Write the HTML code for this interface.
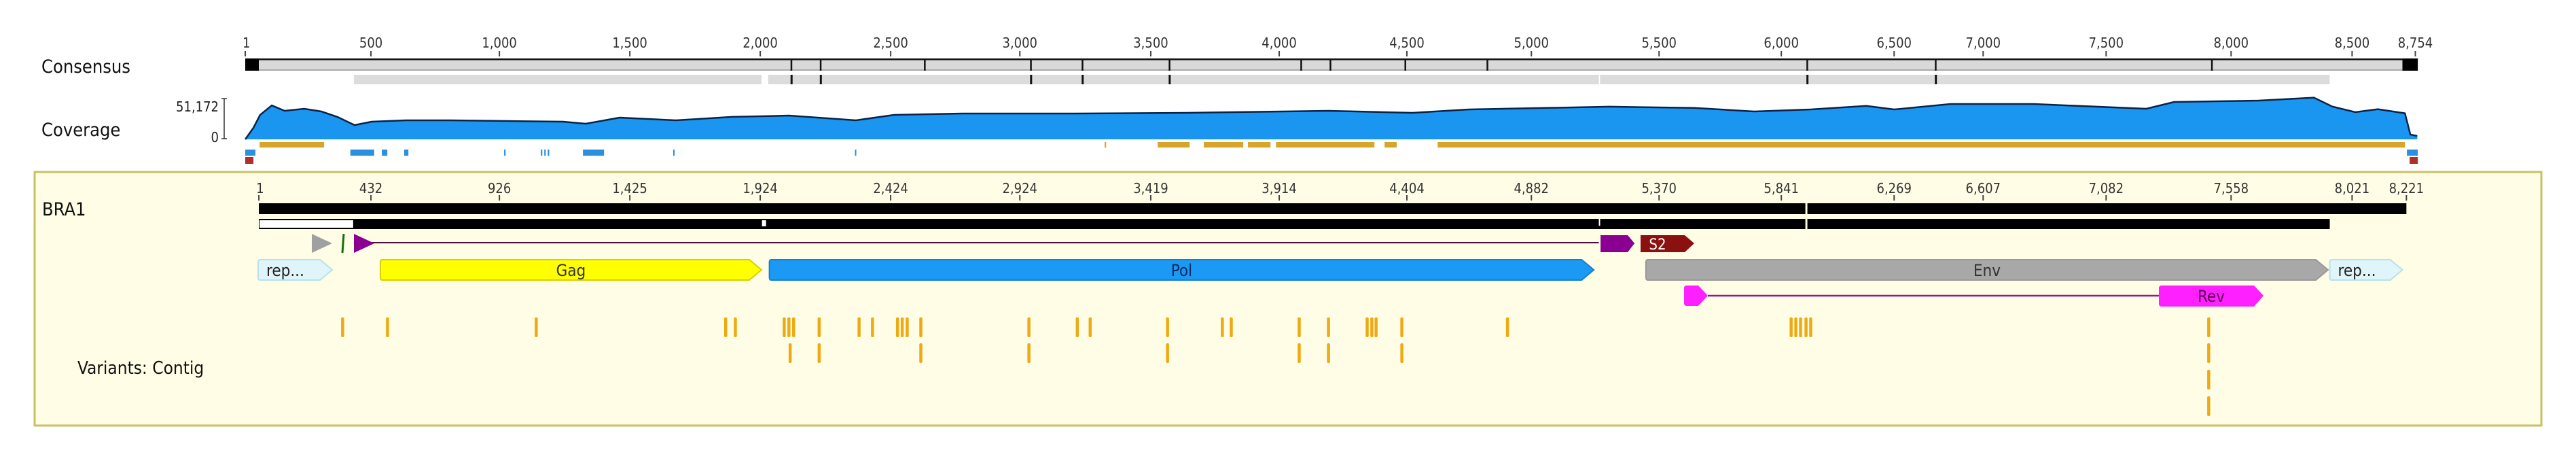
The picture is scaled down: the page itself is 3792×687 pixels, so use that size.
<!DOCTYPE html>
<html><head><meta charset="utf-8">
<style>
html,body{margin:0;padding:0;background:#fff;}
svg{display:block;font-family:"DejaVu Sans Condensed","DejaVu Sans","Liberation Sans",sans-serif;}
</style></head>
<body>
<svg id="chart" width="3792" height="687" viewBox="0 0 3792 687" xmlns="http://www.w3.org/2000/svg">
  <rect x="0" y="0" width="3792" height="687" fill="#ffffff"/>
  <rect x="51" y="253" width="3690" height="373" fill="#fffde6" stroke="#c9c062" stroke-width="3"/>
  <text x="61" y="107" font-size="27" fill="#111">Consensus</text>
  <text x="61" y="200" font-size="27" fill="#111">Coverage</text>
  <text x="322" y="164" font-size="20" fill="#222" text-anchor="end">51,172</text>
  <text x="322" y="209" font-size="20" fill="#222" text-anchor="end">0</text>
  <path d="M326 145 H334 M330 145 V204 M326 204 H334" stroke="#333" stroke-width="1.5" fill="none"/>
  <text x="62" y="317" font-size="27" fill="#111">BRA1</text>
  <text x="114" y="550" font-size="26" fill="#111">Variants: Contig</text>
  <g id="g"></g>
</svg>
<script>
// ---- data (alignment columns) ----
const consTickLabels = ["1","500","1,000","1,500","2,000","2,500","3,000","3,500","4,000","4,500","5,000","5,500","6,000","6,500","7,000","7,500","8,000","8,500","8,754"];
const consTickCols = [0,507,1025,1551,2077,2603,3124,3652,4170,4685,5187,5702,6195,6650,7009,7505,8009,8497,8752];
const contigTickLabels = ["1","432","926","1,425","1,924","2,424","2,924","3,419","3,914","4,404","4,882","5,370","5,841","6,269","6,607","7,082","7,558","8,021","8,221"];
const contigTickCols = [55,507,1025,1551,2077,2603,3124,3652,4170,4685,5187,5702,6195,6650,7009,7505,8009,8497,8716];
const consGapCols = [2202,2320,2740,3168,3376,3727,4258,4376,4678,5009,6299,6817,7931];
const idGapCols = [2202,2320,3168,3376,3727,6299,6817];
const covCols = [0,33,60,107,159,238,307,373,441,510,647,827,1055,1282,1373,1510,1737,1965,2192,2463,2617,2891,3346,3798,4368,4707,4935,5502,5844,6086,6313,6538,6650,6877,7214,7667,7779,8119,8343,8417,8510,8601,8710,8732,8760];
const covValues = [0,14.5,30.7,42.6,35.8,38.4,35,28,17.9,22.2,23.9,23.9,23,22.2,19.6,27.3,23.9,28.2,29.8,23.9,30.7,32.4,32.4,33.3,35.8,33.3,37.5,41,39.4,35,37.5,42,37.5,44.3,44.3,38.4,46.9,48.6,52.3,41.2,34.1,37.8,32.7,6,4.3];
const covMax = 51.172;
const orangeStarts = [58,3466,3680,3866,4044,4157,4595,4809];
const orangeEnds   = [318,3472,3809,4025,4135,4554,4644,8710];
const blueStarts = [0,424,551,641,1044,1192,1206,1220,1362,1726,2459,8718];
const blueEnds   = [41,520,573,658,1050,1198,1212,1226,1447,1731,2463,8762];
const redStarts = [0,8729];
const redEnds = [33,8762];
const var1 = [392,573,1173,1937,1976,2173,2192,2211,2314,2475,2529,2630,2649,2669,2724,3160,3355,3407,3719,3940,3976,4250,4368,4524,4543,4560,4664,5090,6234,6253,6272,6294,6313,7918];
const var2 = [2197,2314,2724,3160,3719,4250,4368,4664,7918];
const var3 = [7918];
const var4 = [7918];
const featNames = ["rep...","Gag","Pol","Env","rep..."];
const featStarts = [52,545,2114,5649,8407];
const featEnds = [351,2082,5439,8400,8700];

// ---- scales ----
const X0 = 361, PX = 0.365;
const xs = c => X0 + c * PX;
const covBase = 205, covTop = 145;
const ys = v => covBase - (v / covMax) * (covBase - covTop);
const NS = "http://www.w3.org/2000/svg";
const G = document.getElementById('g');
function mk(tag, attrs, parent){ const e = document.createElementNS(NS, tag); for (const k in attrs) e.setAttribute(k, attrs[k]); (parent||G).appendChild(e); return e; }

// rulers
function ruler(labels, cols, yLab, yT){
  for (let i=0;i<labels.length;i++){
    const x = xs(cols[i]);
    const t = mk('line',{x1:x,x2:x,y1:yT,y2:yT+8,stroke:'#444','stroke-width':2});
    
    
    const tx = mk('text',{x:x,y:yLab,'font-size':20,fill:'#333','text-anchor':i==0?'start':'middle'});
    
    
    if(i==0) tx.setAttribute('x', x-4);
    tx.textContent = labels[i];
  }
}
ruler(consTickLabels, consTickCols, 70, 75);
ruler(contigTickLabels, contigTickCols, 284, 287);

// consensus bar
let r = mk('rect',{x:xs(0),y:86,width:xs(8762)-xs(0),height:18,fill:'#d9d9d9'});


mk('rect',{x:xs(0),y:86,width:xs(8762)-xs(0),height:2.5,fill:'#111'});
mk('rect',{x:xs(0),y:102,width:xs(8762)-xs(0),height:2,fill:'#aaa'});
mk('rect',{x:xs(0),y:86,width:20,height:18,fill:'#000'});
mk('rect',{x:xs(8700),y:86,width:xs(8762)-xs(8700),height:18,fill:'#000'});
consGapCols.forEach(c=>{ const l=mk('rect',{x:xs(c)-1,y:86,width:2.5,height:18,fill:'#111'});
    });
// identity bar
r = mk('rect',{x:xs(438),y:110,width:xs(2082)-xs(438),height:14,fill:'#dcdcdc'});
 
r = mk('rect',{x:xs(2109),y:110,width:xs(5459)-xs(2109),height:14,fill:'#dcdcdc'});
 
r = mk('rect',{x:xs(5464),y:110,width:xs(8407)-xs(5464),height:14,fill:'#dcdcdc'});
 
idGapCols.forEach(c=>{ const l=mk('rect',{x:xs(c)-1,y:110,width:3,height:14,fill:'#111'});
    });

// coverage
let d = 'M'+xs(covCols[0])+' '+covBase;
for (let i=0;i<covCols.length;i++) d += ' L'+xs(covCols[i])+' '+ys(covValues[i]);
d += ' L'+xs(covCols[covCols.length-1])+' '+covBase+' Z';
let p = mk('path',{d:d,fill:'#1a96f0'});
 
let dl = 'M'+xs(covCols[0])+' '+ys(covValues[0]);
for (let i=1;i<covCols.length;i++) dl += ' L'+xs(covCols[i])+' '+ys(covValues[i]);
p = mk('path',{d:dl,fill:'none',stroke:'#0b2347','stroke-width':2.5});
 

function segs(starts, ends, y, h, color, name){
  for (let i=0;i<starts.length;i++){
    const e = mk('rect',{x:xs(starts[i]),y:y,width:Math.max(2,xs(ends[i])-xs(starts[i])),height:h,fill:color});
    
    
  }
}
segs(orangeStarts, orangeEnds, 209, 8, '#d9a42a', 'quality-segment');
segs(blueStarts, blueEnds, 220, 9, '#2a90e0', 'disagreement-segment');
segs(redStarts, redEnds, 231, 10, '#b03028', 'end-mark');

// contig bars
r = mk('rect',{x:xs(55),y:299,width:xs(8716)-xs(55),height:16,fill:'#000'});
 
r = mk('rect',{x:xs(55),y:322,width:xs(8407)-xs(55),height:15,fill:'#000'});
 
mk('rect',{x:xs(55)+1,y:324,width:xs(438)-xs(55)-2,height:11,fill:'#fff'});
mk('rect',{x:xs(2084),y:324,width:6,height:9,fill:'#fff'});
mk('rect',{x:xs(5459),y:322,width:2,height:10,fill:'#fff'});
mk('rect',{x:xs(6292),y:299,width:3,height:38,fill:'#fffde6'});

// small annotations row
mk('path',{d:'M459 344 L489 358 L459 372 Z',fill:'#a0a0a0',});
mk('path',{d:'M506 344 L504 372',stroke:'#107010','stroke-width':3,});
mk('line',{x1:xs(438),x2:xs(5459),y1:357,y2:357,stroke:'#4a1040','stroke-width':2,});
mk('path',{d:'M521 344 L551 358 L521 372 Z',fill:'#8a0090',});
mk('path',{d:'M'+xs(5466)+' 346 H'+(xs(5466)+40)+' L'+(xs(5466)+50)+' 358 L'+(xs(5466)+40)+' 371 H'+xs(5466)+' Z',fill:'#8a0090',});
mk('path',{d:'M2415 346 H2480 L2494 358 L2480 371 H2415 Z',fill:'#8b1010',});
let t = mk('text',{x:2440,y:367,'font-size':22,fill:'#fff','text-anchor':'middle'}); t.textContent='S2';
 

// features row
const fFill = ['#dff5fa','#ffff00','#1a9af5','#a8a8a8','#dff5fa'];
const fStroke = ['#b5e2ec','#d8d000','#1680cc','#999','#b5e2ec'];
const fText = ['#222','#333','#0a2a60','#333','#222'];
for (let i=0;i<featNames.length;i++){
  const x1 = xs(featStarts[i]), x2 = xs(featEnds[i]);
  const e = mk('path',{d:'M'+(x1+3)+' 382 H'+(x2-18)+' L'+x2+' 397 L'+(x2-18)+' 412 H'+(x1+3)+' Q'+x1+' 412 '+x1+' 408 V386 Q'+x1+' 382 '+(x1+3)+' 382 Z',fill:fFill[i],stroke:fStroke[i],'stroke-width':2});
  
  
  const small = featNames[i]==='rep...';
  const tx = mk('text',{x:small?x1+12:(x1+x2)/2,y:406,'font-size':24,fill:fText[i],'text-anchor':small?'start':'middle'});
  
  
  tx.textContent = featNames[i];
}
// rev row
mk('line',{x1:2514,x2:3180,y1:435,y2:435,stroke:'#a01090','stroke-width':2.5,});
mk('path',{d:'M2483 420 H2500 L2514 435 L2500 450 H2483 Q2479 450 2479 446 V424 Q2479 420 2483 420 Z',fill:'#ff20ff',});
mk('path',{d:'M3182 420 H3318 L3332 435 L3318 451 H3182 Q3178 451 3178 447 V424 Q3178 420 3182 420 Z',fill:'#ff20ff',});
t = mk('text',{x:3255,y:444,'font-size':24,fill:'#5a0050','text-anchor':'middle'}); t.textContent='Rev';
 

// variants
function vrow(arr, y){
  arr.forEach(c=>{
    const e = mk('rect',{x:xs(c)-2,y:y,width:4.5,height:29,rx:2,fill:'#eeaa14'});
    
    
  });
}
vrow(var1, 467); vrow(var2, 505); vrow(var3, 544); vrow(var4, 583);
</script>
</body></html>
